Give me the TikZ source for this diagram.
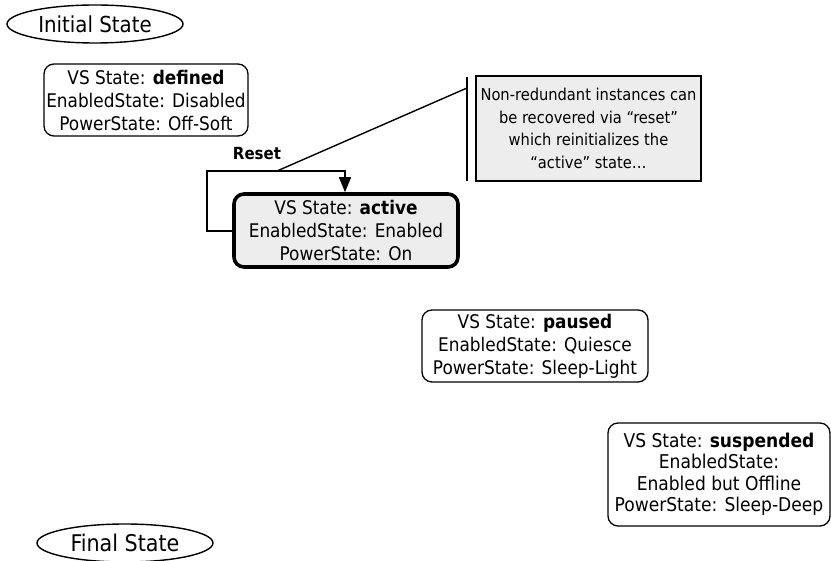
\documentclass[tikz,border=0pt]{standalone}
\usepackage{fontspec}
\setmainfont{DejaVu Sans Condensed}
\usetikzlibrary{shapes.geometric,arrows.meta}
\begin{document}
\begin{tikzpicture}[x=1pt,y=-1pt,
  every node/.style={font=\fontsize{18.8}{23}\selectfont, align=center, inner sep=0pt},
  statebox/.style={draw, rounded corners=10pt, line width=1.3pt},
  activebox/.style={draw, rounded corners=10pt, line width=3.6pt, fill=black!7},
  notebox/.style={draw, line width=1.4pt, fill=black!7, font=\fontsize{16.3}{22.5}\selectfont},
  term/.style={draw, ellipse, line width=1.4pt, minimum width=176pt, minimum height=38pt, font=\fontsize{22}{24}\selectfont},
  conn/.style={line width=1.4pt},
]
\useasboundingbox (0,0) rectangle (831,561);
\node[term] (init) at (95,24) {Initial State};
\node[statebox, minimum width=204pt, minimum height=72pt] (defined) at (146,100)
  {VS State: \textbf{defined}\\EnabledState: Disabled\\PowerState: Off-Soft};
\node[activebox, minimum width=224pt, minimum height=73pt] (active) at (346,230.5)
  {VS State: \textbf{active}\\EnabledState: Enabled\\PowerState: On};
\node[notebox, minimum width=225pt, minimum height=105pt] (note) at (588.5,128.5)
  {Non-redundant instances can\\be recovered via “reset”\\which reinitializes the\\“active” state…};
\node[statebox, minimum width=226pt, minimum height=72pt] (paused) at (535,346)
  {VS State: \textbf{paused}\\EnabledState: Quiesce\\PowerState: Sleep-Light};
\node[statebox, minimum width=222pt, minimum height=103pt, font=\fontsize{19}{21.5}\selectfont] (suspended) at (719,474.5)
  {VS State: \textbf{suspended}\\EnabledState:\\Enabled but Offline\\PowerState: Sleep-Deep};
\node[term, font=\fontsize{23}{24}\selectfont] (final) at (125,543) {Final State};
\node[font=\fontsize{16.7}{20}\selectfont\bfseries] (reset) at (257,154) {Reset};
% reset loop
\coordinate (lp1) at (207,231);
\coordinate (lp2) at (207,171);
\coordinate (lp3) at (345,171);
\draw[conn, -{Triangle[length=15pt,width=12pt]}] (active.west |- lp1) -- (lp1) -- (lp2) -- (lp3) -- (lp3 |- active.north);
% callout
\coordinate (cstart) at (277,171);
\coordinate (cend) at (467,88);
\coordinate (bartop) at (467,77);
\coordinate (barbot) at (467,181);
\draw[conn] (cstart) -- (cend);
\draw[line width=2pt] (bartop) -- (barbot);
\end{tikzpicture}
\end{document}
